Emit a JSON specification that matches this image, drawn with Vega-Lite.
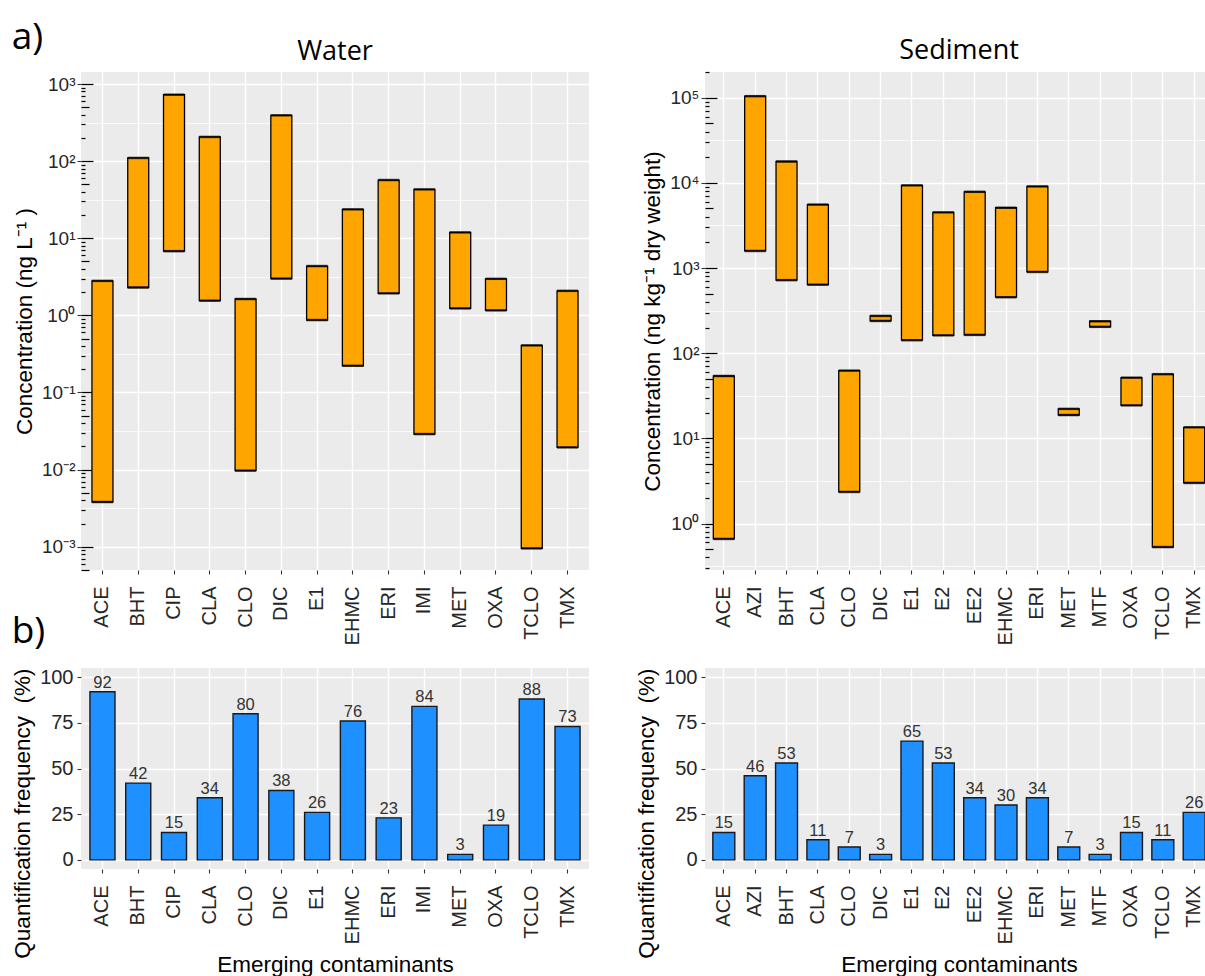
{
  "$schema": "https://vega.github.io/schema/vega-lite/v6.json",
  "background": "white",
  "padding": {"left": 11, "top": 19, "right": 0, "bottom": 0},
  "config": {
    "view": {"fill": "#EBEBEB", "stroke": null},
    "font": "Liberation Sans",
    "axis": {
      "domain": false,
      "gridColor": "white",
      "tickColor": "#333333",
      "tickSize": 4,
      "tickWidth": 1.1,
      "labelColor": "#262626",
      "labelFont": "Liberation Sans",
      "labelFontSize": 20,
      "titleFont": "Liberation Sans",
      "titleFontSize": 22.5,
      "titleFontWeight": "normal",
      "titleColor": "black",
      "labelOverlap": false
    },
    "title": {"font": "Open Sans", "fontWeight": "normal", "color": "black"}
  },
  "datasets": {
    "waterConc": [
      {"c": "ACE", "min": 0.0038, "max": 2.8},
      {"c": "BHT", "min": 2.3, "max": 110},
      {"c": "CIP", "min": 6.8, "max": 727},
      {"c": "CLA", "min": 1.55, "max": 206},
      {"c": "CLO", "min": 0.0097, "max": 1.63},
      {"c": "DIC", "min": 3.0, "max": 393},
      {"c": "E1", "min": 0.87, "max": 4.36},
      {"c": "EHMC", "min": 0.222, "max": 23.7},
      {"c": "ERI", "min": 1.93, "max": 56.9},
      {"c": "IMI", "min": 0.0289, "max": 43},
      {"c": "MET", "min": 1.23, "max": 11.9},
      {"c": "OXA", "min": 1.16, "max": 2.98},
      {"c": "TCLO", "min": 0.00095, "max": 0.408},
      {"c": "TMX", "min": 0.0194, "max": 2.08}
    ],
    "sedConc": [
      {"c": "ACE", "min": 0.66, "max": 54},
      {"c": "AZI", "min": 1585, "max": 104000},
      {"c": "BHT", "min": 720, "max": 17800},
      {"c": "CLA", "min": 637, "max": 5560},
      {"c": "CLO", "min": 2.35, "max": 62.5},
      {"c": "DIC", "min": 239, "max": 274},
      {"c": "E1", "min": 142, "max": 9330},
      {"c": "E2", "min": 162, "max": 4500},
      {"c": "EE2", "min": 164, "max": 7850},
      {"c": "EHMC", "min": 454, "max": 5100},
      {"c": "ERI", "min": 899, "max": 9070},
      {"c": "MET", "min": 18.8, "max": 22.2},
      {"c": "MTF", "min": 204, "max": 237},
      {"c": "OXA", "min": 24.4, "max": 51.6},
      {"c": "TCLO", "min": 0.53, "max": 56.7},
      {"c": "TMX", "min": 3.0, "max": 13.5}
    ],
    "waterFreq": [
      {"c": "ACE", "f": 92}, {"c": "BHT", "f": 42}, {"c": "CIP", "f": 15}, {"c": "CLA", "f": 34},
      {"c": "CLO", "f": 80}, {"c": "DIC", "f": 38}, {"c": "E1", "f": 26}, {"c": "EHMC", "f": 76},
      {"c": "ERI", "f": 23}, {"c": "IMI", "f": 84}, {"c": "MET", "f": 3}, {"c": "OXA", "f": 19},
      {"c": "TCLO", "f": 88}, {"c": "TMX", "f": 73}
    ],
    "sedFreq": [
      {"c": "ACE", "f": 15}, {"c": "AZI", "f": 46}, {"c": "BHT", "f": 53}, {"c": "CLA", "f": 11},
      {"c": "CLO", "f": 7}, {"c": "DIC", "f": 3}, {"c": "E1", "f": 65}, {"c": "E2", "f": 53},
      {"c": "EE2", "f": 34}, {"c": "EHMC", "f": 30}, {"c": "ERI", "f": 34}, {"c": "MET", "f": 7},
      {"c": "MTF", "f": 3}, {"c": "OXA", "f": 15}, {"c": "TCLO", "f": 11}, {"c": "TMX", "f": 26}
    ]
  },
  "title": {"text": "a)", "anchor": "start", "frame": "bounds", "fontSize": 37, "offset": -20},
  "columns": 2,
  "align": "all",
  "bounds": "flush",
  "spacing": {"row": 98, "column": 116},
  "concat": [
    {
      "width": 508,
      "height": 498,
      "title": {"text": "Water", "fontSize": 27, "offset": 6},
      "data": {"name": "waterConc"},
      "encoding": {
        "x": {"field": "c", "type": "nominal", "sort": null, "title": null,
          "scale": {"paddingInner": 0, "paddingOuter": 0.1},
          "axis": {"labelAngle": -90, "labelPadding": 12, "grid": true, "gridWidth": 1.4}}
      },
      "layer": [
        {
          "mark": {"type": "bar", "size": 21, "fill": "#FFA500", "stroke": "black", "strokeWidth": 1.3},
          "encoding": {
            "y": {"field": "min", "type": "quantitative",
              "scale": {"type": "log", "domain": [0.000499, 1432], "nice": false},
              "axis": {
                "title": "Concentration (ng L\u207b\u00b9 )",
                "titlePadding": 5,
                "values": [0.001, 0.0031623, 0.01, 0.031623, 0.1, 0.31623, 1, 3.1623, 10, 31.623, 100, 316.23, 1000],
                "labelExpr": "abs(log(datum.value)/LN10 - round(log(datum.value)/LN10)) < 0.01 ? '10' + (datum.value < 0.99 ? '\u207b' : '') + ['\u2070','\u00b9','\u00b2','\u00b3','\u2074','\u2075','\u2076','\u2077','\u2078','\u2079'][abs(round(log(datum.value)/LN10))] : ''",
                "labelFontSize": 19,
                "labelPadding": 2,
                "grid": true,
                "gridWidth": {"condition": {"test": "abs(log(datum.value)/LN10 - round(log(datum.value)/LN10)) < 0.01", "value": 1.4}, "value": 0.7},
                "tickOpacity": {"condition": {"test": "abs(log(datum.value)/LN10 - round(log(datum.value)/LN10)) < 0.01", "value": 1}, "value": 0}
              }},
            "y2": {"field": "max"}
          }
        },
        {
          "mark": {"type": "tick", "orient": "horizontal", "size": 21, "thickness": 2.5, "color": "black"},
          "encoding": {
            "y": {"field": "min", "type": "quantitative",
              "scale": {"type": "log", "domain": [0.000499, 1432], "nice": false},
              "axis": {
                "orient": "left", "title": null, "labels": false, "grid": false, "domain": false,
                "tickColor": "black", "tickWidth": 1.2,
                "values": [0.0005, 0.0006, 0.0007, 0.0008, 0.0009, 0.001, 0.002, 0.003, 0.004, 0.005, 0.006, 0.007, 0.008, 0.009, 0.01, 0.02, 0.03, 0.04, 0.05, 0.06, 0.07, 0.08, 0.09, 0.1, 0.2, 0.3, 0.4, 0.5, 0.6, 0.7, 0.8, 0.9, 1, 2, 3, 4, 5, 6, 7, 8, 9, 10, 20, 30, 40, 50, 60, 70, 80, 90, 100, 200, 300, 400, 500, 600, 700, 800, 900, 1000],
                "tickSize": {"condition": [
                  {"test": "abs(log(datum.value)/LN10 - round(log(datum.value)/LN10)) < 0.01", "value": -12},
                  {"test": "abs(datum.value / pow(10, floor(log(datum.value)/LN10 + 0.001)) - 5) < 0.01", "value": -8}
                ], "value": -4}
              }}
          }
        },
        {
          "mark": {"type": "tick", "orient": "horizontal", "size": 21, "thickness": 2.5, "color": "black"},
          "encoding": {
            "y": {"field": "max", "type": "quantitative",
              "scale": {"type": "log", "domain": [0.000499, 1432], "nice": false},
              "axis": null}
          }
        }
      ],
      "resolve": {"axis": {"y": "independent"}}
    },
    {
      "width": 508,
      "height": 498,
      "title": {"text": "Sediment", "fontSize": 27, "offset": 6},
      "data": {"name": "sedConc"},
      "encoding": {
        "x": {"field": "c", "type": "nominal", "sort": null, "title": null,
          "scale": {"paddingInner": 0, "paddingOuter": 0.1},
          "axis": {"labelAngle": -90, "labelPadding": 12, "grid": true, "gridWidth": 1.4}}
      },
      "layer": [
        {
          "mark": {"type": "bar", "size": 21, "fill": "#FFA500", "stroke": "black", "strokeWidth": 1.3},
          "encoding": {
            "y": {"field": "min", "type": "quantitative",
              "scale": {"type": "log", "domain": [0.285, 200000], "nice": false},
              "axis": {
                "title": "Concentration (ng kg\u207b\u00b9 dry weight)",
                "titlePadding": 5,
                "values": [0.31623, 1, 3.1623, 10, 31.623, 100, 316.23, 1000, 3162.3, 10000, 31623, 100000],
                "labelExpr": "abs(log(datum.value)/LN10 - round(log(datum.value)/LN10)) < 0.01 ? '10' + (datum.value < 0.99 ? '\u207b' : '') + ['\u2070','\u00b9','\u00b2','\u00b3','\u2074','\u2075','\u2076','\u2077','\u2078','\u2079'][abs(round(log(datum.value)/LN10))] : ''",
                "labelFontSize": 19,
                "labelPadding": 2,
                "grid": true,
                "gridWidth": {"condition": {"test": "abs(log(datum.value)/LN10 - round(log(datum.value)/LN10)) < 0.01", "value": 1.4}, "value": 0.7},
                "tickOpacity": {"condition": {"test": "abs(log(datum.value)/LN10 - round(log(datum.value)/LN10)) < 0.01", "value": 1}, "value": 0}
              }},
            "y2": {"field": "max"}
          }
        },
        {
          "mark": {"type": "tick", "orient": "horizontal", "size": 21, "thickness": 2.5, "color": "black"},
          "encoding": {
            "y": {"field": "min", "type": "quantitative",
              "scale": {"type": "log", "domain": [0.285, 200000], "nice": false},
              "axis": {
                "orient": "left", "title": null, "labels": false, "grid": false, "domain": false,
                "tickColor": "black", "tickWidth": 1.2,
                "values": [0.3, 0.4, 0.5, 0.6, 0.7, 0.8, 0.9, 1, 2, 3, 4, 5, 6, 7, 8, 9, 10, 20, 30, 40, 50, 60, 70, 80, 90, 100, 200, 300, 400, 500, 600, 700, 800, 900, 1000, 2000, 3000, 4000, 5000, 6000, 7000, 8000, 9000, 10000, 20000, 30000, 40000, 50000, 60000, 70000, 80000, 90000, 100000, 200000],
                "tickSize": {"condition": [
                  {"test": "abs(log(datum.value)/LN10 - round(log(datum.value)/LN10)) < 0.01", "value": -12},
                  {"test": "abs(datum.value / pow(10, floor(log(datum.value)/LN10 + 0.001)) - 5) < 0.01", "value": -8}
                ], "value": -4}
              }}
          }
        },
        {
          "mark": {"type": "tick", "orient": "horizontal", "size": 21, "thickness": 2.5, "color": "black"},
          "encoding": {
            "y": {"field": "max", "type": "quantitative",
              "scale": {"type": "log", "domain": [0.285, 200000], "nice": false},
              "axis": null}
          }
        }
      ],
      "resolve": {"axis": {"y": "independent"}}
    },
    {
      "width": 508,
      "height": 201,
      "title": {"text": "b)", "anchor": "start", "frame": "bounds", "fontSize": 37, "offset": 16},
      "data": {"name": "waterFreq"},
      "encoding": {
        "x": {"field": "c", "type": "nominal", "sort": null, "title": "Emerging contaminants",
          "scale": {"paddingInner": 0, "paddingOuter": 0.1},
          "axis": {"labelAngle": -90, "labelPadding": 12, "grid": true, "gridWidth": 1.4, "titlePadding": 10}}
      },
      "layer": [
        {
          "mark": {"type": "bar", "width": {"band": 0.7}, "fill": "#1E90FF", "stroke": "#1a1a1a", "strokeWidth": 1.4},
          "encoding": {
            "y": {"field": "f", "type": "quantitative",
              "scale": {"domain": [-5, 105], "nice": false, "zero": false},
              "axis": {
                "title": "Quantification frequency\u00a0\u00a0(%)",
                "titleAnchor": "end",
                "titlePadding": 5,
                "values": [0, 12.5, 25, 37.5, 50, 62.5, 75, 87.5, 100],
                "labelExpr": "datum.value % 25 == 0 ? datum.label : ''",
                "labelPadding": 4,
                "grid": true,
                "gridWidth": {"condition": {"test": "datum.value % 25 == 0", "value": 1.4}, "value": 0.7},
                "tickOpacity": {"condition": {"test": "datum.value % 25 == 0", "value": 1}, "value": 0}
              }}
          }
        },
        {
          "mark": {"type": "text", "dy": -4, "baseline": "alphabetic", "fontSize": 16.5, "color": "#333333"},
          "encoding": {
            "y": {"field": "f", "type": "quantitative"},
            "text": {"field": "f", "type": "quantitative"}
          }
        }
      ]
    },
    {
      "width": 508,
      "height": 201,
      "data": {"name": "sedFreq"},
      "encoding": {
        "x": {"field": "c", "type": "nominal", "sort": null, "title": "Emerging contaminants",
          "scale": {"paddingInner": 0, "paddingOuter": 0.1},
          "axis": {"labelAngle": -90, "labelPadding": 12, "grid": true, "gridWidth": 1.4, "titlePadding": 10}}
      },
      "layer": [
        {
          "mark": {"type": "bar", "width": {"band": 0.7}, "fill": "#1E90FF", "stroke": "#1a1a1a", "strokeWidth": 1.4},
          "encoding": {
            "y": {"field": "f", "type": "quantitative",
              "scale": {"domain": [-5, 105], "nice": false, "zero": false},
              "axis": {
                "title": "Quantification frequency\u00a0\u00a0(%)",
                "titleAnchor": "end",
                "titlePadding": 5,
                "values": [0, 12.5, 25, 37.5, 50, 62.5, 75, 87.5, 100],
                "labelExpr": "datum.value % 25 == 0 ? datum.label : ''",
                "labelPadding": 4,
                "grid": true,
                "gridWidth": {"condition": {"test": "datum.value % 25 == 0", "value": 1.4}, "value": 0.7},
                "tickOpacity": {"condition": {"test": "datum.value % 25 == 0", "value": 1}, "value": 0}
              }}
          }
        },
        {
          "mark": {"type": "text", "dy": -4, "baseline": "alphabetic", "fontSize": 16.5, "color": "#333333"},
          "encoding": {
            "y": {"field": "f", "type": "quantitative"},
            "text": {"field": "f", "type": "quantitative"}
          }
        }
      ]
    }
  ]
}
